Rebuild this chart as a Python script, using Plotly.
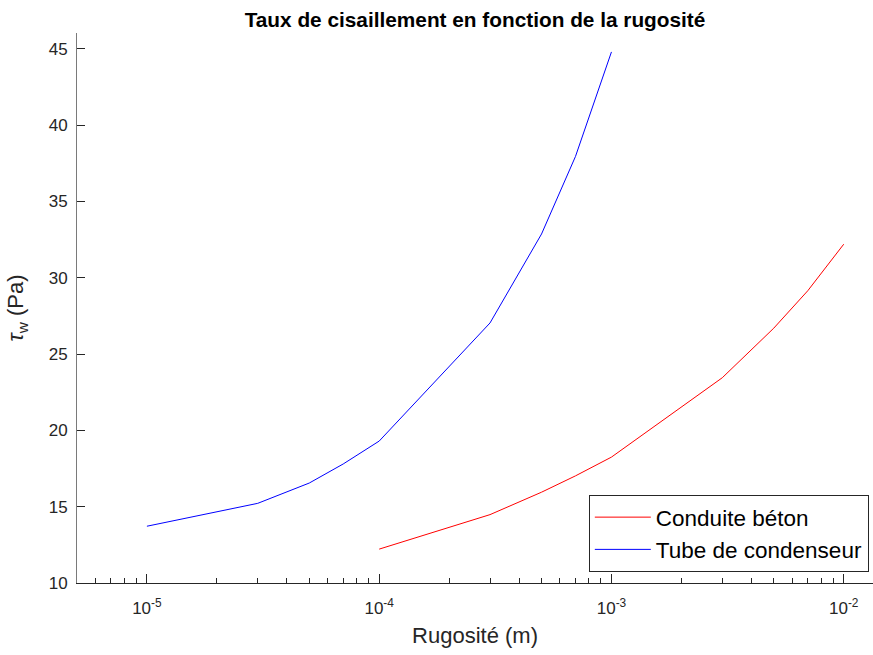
import plotly.graph_objects as go

# Data
x_tube = [1e-5, 3e-5, 5e-5, 7e-5, 1e-4, 3e-4, 5e-4, 7e-4, 1e-3]
y_tube = [13.72, 15.22, 16.55, 17.8, 19.3, 27.04, 32.87, 37.95, 44.8]
x_beton = [1e-4, 3e-4, 5e-4, 7e-4, 1e-3, 3e-3, 5e-3, 7e-3, 1e-2]
y_beton = [12.22, 14.48, 15.95, 17.02, 18.25, 23.45, 26.7, 29.15, 32.2]

x_tickvals = [1e-5, 1e-4, 1e-3, 1e-2]
x_ticktext = ["10<sup>-5</sup>", "10<sup>-4</sup>", "10<sup>-3</sup>", "10<sup>-2</sup>"]
y_tickvals = [10, 15, 20, 25, 30, 35, 40, 45]

minor_vals = [m * d for d in [1e-6, 1e-5, 1e-4, 1e-3] for m in range(2, 10)]

FONT = "Liberation Sans, Arial, Helvetica, sans-serif"
AX = "#262626"

fig = go.Figure()
fig.add_trace(go.Scatter(x=x_beton, y=y_beton, mode="lines", name="Conduite béton",
                         line=dict(color="#ff0000", width=1)))
fig.add_trace(go.Scatter(x=x_tube, y=y_tube, mode="lines", name="Tube de condenseur",
                         line=dict(color="#0000ff", width=1)))

W, H = 873, 655
L, R, T, B = 77, 0, 33, 72

fig.update_layout(
    width=W, height=H,
    margin=dict(l=L, r=R, t=T, b=B),
    paper_bgcolor="white", plot_bgcolor="white",
    font=dict(family=FONT, color=AX, size=17),
    title=dict(text="<b>Taux de cisaillement en fonction de la rugosité</b>",
               font=dict(family=FONT, size=20.8, color="black"),
               x=0.5, xref="paper", xanchor="center",
               y=1 - 20 / H, yref="container", yanchor="middle"),
    showlegend=True,
    legend=dict(x=0.643, y=0.02, xanchor="left", yanchor="bottom",
                bgcolor="white", bordercolor=AX, borderwidth=1,
                font=dict(family=FONT, size=22.5, color="black"),
                tracegroupgap=0, itemwidth=56),
    xaxis=dict(type="log", range=[-5.301, -1.874], automargin=False,
               tickmode="array", tickvals=x_tickvals, ticktext=x_ticktext,
               ticks="inside", ticklen=9, tickcolor=AX, tickwidth=1,
               ticklabelstandoff=10,
               showline=True, linecolor=AX, linewidth=1,
               showgrid=False, zeroline=False,
               tickfont=dict(family=FONT, size=17, color=AX),
               minor=dict(tickmode="array", tickvals=minor_vals, ticks="inside",
                          ticklen=5, tickcolor=AX, showgrid=False),
               title=dict(text="Rugosité (m)", font=dict(family=FONT, size=22, color=AX),
                          standoff=10)),
    yaxis=dict(range=[10, 46.04], automargin=False,
               tickmode="array", tickvals=y_tickvals,
               ticks="inside", ticklen=8, tickcolor=AX, tickwidth=1,
               ticklabelstandoff=5,
               showline=True, linecolor="#7a7a7a", linewidth=1,
               showgrid=False, zeroline=False,
               tickfont=dict(family=FONT, size=17, color=AX),
               title=dict(text="<i>τ</i><sub>w</sub> (Pa)", font=dict(family=FONT, size=22, color=AX),
                          standoff=18)),
)

fig.write_html("out.html", config={"displayModeBar": False},
               post_script="document.body.style.margin='0px';")
